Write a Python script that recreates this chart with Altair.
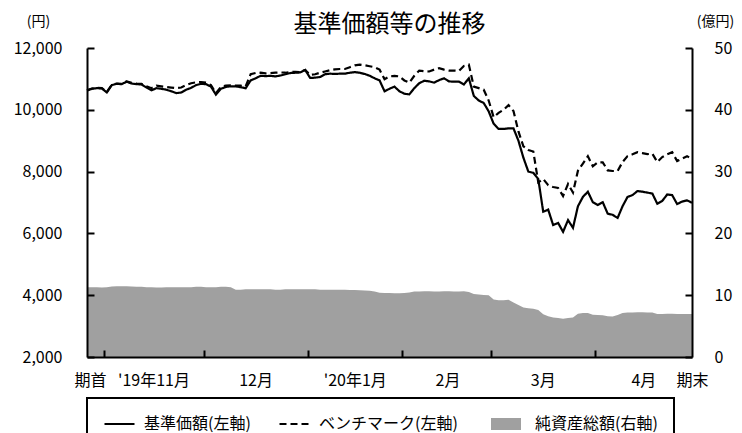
import json
import altair as alt
import pandas as pd

# ---- data ----
nav = [10620, 10680, 10700, 10690, 10560, 10800, 10840, 10830, 10910, 10850,
       10830, 10820, 10720, 10630, 10700, 10680, 10650, 10600, 10540, 10560,
       10650, 10710, 10800, 10840, 10830, 10750, 10490, 10680, 10740, 10760,
       10760, 10730, 10700, 10950, 11020, 11100, 11090, 11100, 11080, 11110,
       11150, 11190, 11200, 11210, 11290, 11030, 11040, 11060, 11150, 11170,
       11160, 11170, 11170, 11200, 11220, 11200, 11160, 11100, 11020, 10950,
       10600, 10680, 10750, 10600, 10520, 10500, 10700, 10860, 10940, 10920,
       10880, 10960, 11020, 10920, 10910, 10910, 10820, 11020, 10450, 10300,
       10220, 9950, 9550, 9380, 9380, 9400, 9400, 9000, 8450, 8000,
       7960, 7760, 6700, 6770, 6270, 6340, 6050, 6430, 6180, 6880,
       7180, 7350, 7010, 6920, 7010, 6640, 6600, 6500, 6880, 7180,
       7240, 7370, 7350, 7320, 7290, 6960, 7050, 7260, 7240, 6950,
       7030, 7070, 6990]

bench = [10640, 10690, 10710, 10700, 10580, 10810, 10850, 10840, 10920, 10870,
         10850, 10840, 10760, 10700, 10780, 10760, 10740, 10720, 10700, 10720,
         10800, 10860, 10890, 10900, 10880, 10800, 10540, 10740, 10780, 10790,
         10780, 10780, 10760, 11150, 11190, 11200, 11180, 11190, 11200, 11210,
         11200, 11220, 11230, 11220, 11290, 11130, 11150, 11200, 11240, 11280,
         11310, 11320, 11320, 11380, 11440, 11460, 11440, 11410, 11380, 11300,
         10990, 11080, 11100, 11080, 10950, 10880, 11100, 11270, 11250, 11240,
         11300, 11350, 11300, 11270, 11270, 11260, 11420, 11460, 10750, 10700,
         10650, 10300, 9760, 9900, 10000, 10150, 9960, 9300, 8820, 8700,
         8650, 7650, 7760, 7560, 7500, 7470, 7210, 7600, 7320, 8030,
         8260, 8500, 8170, 8300, 8300, 8040, 8020, 8020, 8310, 8500,
         8560, 8630, 8600, 8565, 8580, 8310, 8470, 8560, 8630, 8340,
         8420, 8500, 8400]

assets = [11.3, 11.3, 11.3, 11.25, 11.3, 11.4, 11.45, 11.45, 11.45, 11.4,
          11.35, 11.35, 11.3, 11.3, 11.25, 11.25, 11.3, 11.3, 11.3, 11.3,
          11.3, 11.3, 11.35, 11.35, 11.3, 11.3, 11.3, 11.35, 11.35, 11.3,
          10.9, 10.9, 10.95, 10.95, 10.95, 10.95, 10.95, 10.95, 10.9, 10.9,
          10.95, 10.95, 10.95, 10.95, 10.95, 10.95, 10.95, 10.9, 10.9, 10.9,
          10.9, 10.9, 10.9, 10.85, 10.85, 10.8, 10.75, 10.7, 10.6, 10.4,
          10.35, 10.35, 10.3, 10.3, 10.35, 10.45, 10.6, 10.6, 10.65, 10.65,
          10.6, 10.6, 10.65, 10.65, 10.6, 10.6, 10.65, 10.5, 10.2, 10.1,
          10.05, 10.0, 9.3, 9.2, 9.2, 9.25, 8.8, 8.4, 8.0, 7.9,
          7.8, 7.6, 6.9, 6.6, 6.4, 6.3, 6.2, 6.3, 6.4, 7.0,
          7.1, 7.1, 6.85, 6.8, 6.75, 6.6, 6.55, 6.8, 7.1, 7.2,
          7.2, 7.25, 7.25, 7.2, 7.2, 6.95, 6.95, 7.0, 7.0, 6.95,
          6.95, 6.95, 6.95]

series_names = ["基準価額(左軸)", "ベンチマーク(左軸)", "純資産総額(右軸)"]
left_ticks = [2000, 4000, 6000, 8000, 10000, 12000]
right_ticks = [0, 10, 20, 30, 40, 50]
month_ticks = [3.5, 23.5, 44.5, 63.5, 81.5, 102.5]
x_label_pos = [0.6, 13.4, 34.0, 54.0, 72.7, 91.9, 112.2, 122]
x_label_text = ["期首", "'19年11月", "12月", "'20年1月", "2月", "3月", "4月", "期末"]

W, H = 605, 309
FONT = "Noto Sans CJK JP"
n = len(nav)
idx = list(range(n))

wide = pd.DataFrame({"i": idx, "nav": nav, "bench": bench, "assets": assets})
long = pd.DataFrame({
    "i": idx + idx,
    "v": nav + bench,
    "s": [series_names[0]] * n + [series_names[1]] * n,
})

xs = alt.Scale(domain=[0, n - 1], nice=False, zero=False)
ys_left = alt.Scale(domain=[2000, 12000], nice=False, zero=False)
ys_right = alt.Scale(domain=[0, 50], nice=False, zero=False)

common = dict(grid=False, zindex=1, domainColor="black", tickColor="black",
              labelColor="black", domainWidth=2, tickWidth=2,
              labelFont=FONT, titleFont=FONT, titleColor="black")

label_expr = (json.dumps(x_label_text, ensure_ascii=False)
              + "[indexof(" + json.dumps(x_label_pos) + ", datum.value)]")

x_labels_axis = alt.Axis(orient="bottom", values=x_label_pos, labelExpr=label_expr,
                         ticks=False, tickSize=0, domain=False, labelOverlap=False,
                         labelFlush=False, labelPadding=15, labelFontSize=16,
                         title=None, **common)
x_ticks_axis = alt.Axis(orient="top", offset=-H, values=month_ticks, labels=False,
                        ticks=True, tickSize=7, domain=True, title=None, **common)

y_left_axis = alt.Axis(orient="left", values=left_ticks,
                       labelExpr="format(datum.value, ',')", ticks=False,
                       tickSize=0, domain=True, labelPadding=25, labelFontSize=16,
                       labelOverlap=False, labelFlush=False,
                       title="(円)", titleAngle=0, titleX=-49, titleY=-27,
                       titleAlign="center", titleBaseline="middle", titleFontSize=14,
                       titleFontWeight="normal", **common)
y_left_ticks = alt.Axis(orient="right", offset=-W, values=left_ticks, labels=False,
                        domain=False, ticks=True, tickSize=7, title=None, **common)
y_right_axis = alt.Axis(orient="right", values=right_ticks, ticks=False, tickSize=0,
                        domain=True, labelPadding=22, labelFontSize=16,
                        labelOverlap=False, labelFlush=False,
                        title="(億円)", titleAngle=0, titleX=23, titleY=-27,
                        titleAlign="center", titleBaseline="middle", titleFontSize=14,
                        titleFontWeight="normal", **common)
y_right_ticks = alt.Axis(orient="left", offset=-W, values=right_ticks, labels=False,
                         domain=False, ticks=True, tickSize=7, title=None, **common)

leg = alt.Legend(title=None, orient="none", legendX=0, legendY=350,
                 direction="horizontal", strokeColor="black", padding=16,
                 clipHeight=20, columnPadding=27, labelOffset=8, labelFontSize=16,
                 labelFont=FONT, labelColor="black", symbolSize=900,
                 symbolType="stroke")

area = alt.Chart(wide).mark_area(color="#a0a0a0").encode(
    x=alt.X("i:Q", scale=xs, axis=x_labels_axis),
    y=alt.Y("assets:Q", scale=ys_right, axis=y_right_axis),
)
area_ticks = alt.Chart(wide).mark_line(opacity=0).encode(
    x=alt.X("i:Q", scale=xs, axis=x_ticks_axis),
    y=alt.Y("assets:Q", scale=ys_right, axis=y_right_ticks),
)
lines = alt.Chart(long).mark_line().encode(
    x=alt.X("i:Q", scale=xs, axis=None),
    y=alt.Y("v:Q", scale=ys_left, axis=y_left_axis),
    color=alt.Color("s:N", scale=alt.Scale(domain=series_names,
                                           range=["black", "black", "#a0a0a0"]), legend=leg),
    strokeDash=alt.StrokeDash("s:N", scale=alt.Scale(domain=series_names,
                                                     range=[[1, 0], [7, 4], [1, 0]]), legend=leg),
    strokeWidth=alt.StrokeWidth("s:N", scale=alt.Scale(type="ordinal", domain=series_names,
                                                       range=[2.2, 2.2, 12]), legend=leg),
)
line_ticks = alt.Chart(wide).mark_line(opacity=0).encode(
    x=alt.X("i:Q", scale=xs, axis=None),
    y=alt.Y("nav:Q", scale=ys_left, axis=y_left_ticks),
)

chart = alt.layer(area, area_ticks, lines, line_ticks).resolve_scale(
    y="independent"
).resolve_axis(
    x="independent", y="independent"
).properties(
    width=W, height=H,
    title=alt.TitleParams("基準価額等の推移", fontSize=24, fontWeight="normal",
                          anchor="middle", offset=-23, font=FONT, color="black"),
    padding={"left": 79, "top": 40, "right": 42, "bottom": 85},
    autosize=alt.AutoSizeParams(type="none"),
).configure(font=FONT).configure_view(stroke=None).configure_legend(strokeWidth=2)

chart.save("out.html", embed_options={"renderer": "svg", "actions": False})
